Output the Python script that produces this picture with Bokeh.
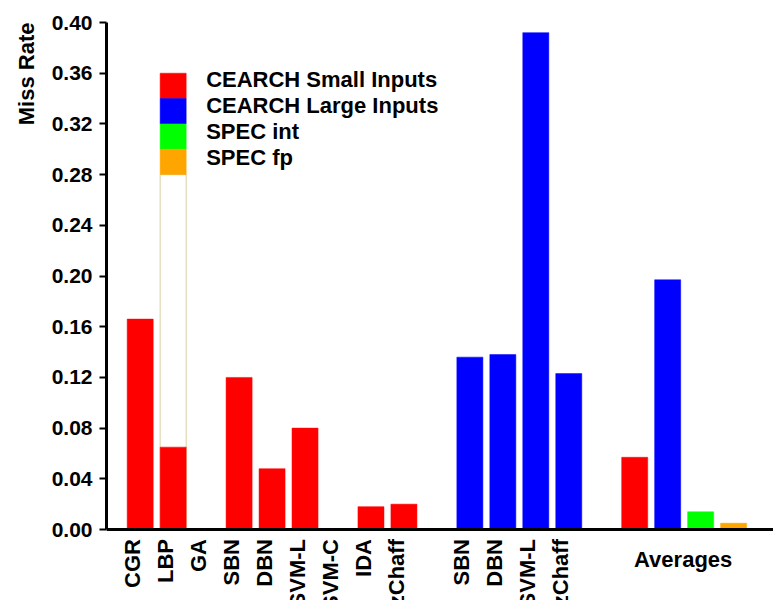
from math import pi
from bokeh.plotting import figure
from bokeh.models import Range1d, FixedTicker, PrintfTickFormatter, Span
from bokeh.core.properties import value
from bokeh.embed import file_html
from bokeh.resources import INLINE

# ---- data ----
small_labels = ["CGR", "LBP", "GA", "SBN", "DBN", "SVM-L", "SVM-C", "IDA", "zChaff"]
small_values = [0.166, 0.065, 0.0, 0.120, 0.048, 0.080, 0.0, 0.018, 0.020]
large_labels = ["SBN", "DBN", "SVM-L", "zChaff"]
large_values = [0.136, 0.138, 0.392, 0.123]
avg_series = ["CEARCH Small Inputs", "CEARCH Large Inputs", "SPEC int", "SPEC fp"]
avg_values = [0.057, 0.197, 0.014, 0.005]
series_colors = ["#FF0000", "#0000FF", "#00FF00", "#FFA500"]
y_ticks = [0.00, 0.04, 0.08, 0.12, 0.16, 0.20, 0.24, 0.28, 0.32, 0.36, 0.40]

FONT = "Liberation Sans"

# slot positions
small_x = list(range(len(small_labels)))
large_start = len(small_labels) + 1
large_x = [large_start + i for i in range(len(large_labels))]
avg_start = large_x[-1] + 2
avg_x = [avg_start + i for i in range(len(avg_values))]

p = figure(width=773, height=600, output_backend="svg", toolbar_location=None,
           x_range=Range1d(-1.022, 19.21), y_range=Range1d(-0.056, 0.40),
           min_border_left=106, min_border_right=0, min_border_top=22, min_border_bottom=0,
           title="Miss Rate", title_location="left")
p.outline_line_color = None
p.xgrid.visible = False
p.ygrid.visible = False
p.background_fill_color = "white"
p.border_fill_color = "white"

p.title.align = "right"
p.title.text_font = FONT
p.title.text_font_size = "22px"
p.title.text_font_style = "bold"
p.title.text_color = "black"
p.title.standoff = 19

BW = 0.79

# legend-like stacked patches (white box under LBP bar)
lx = small_x[1]
p.vbar(x=[lx], bottom=[0.0], top=[0.28], width=BW, fill_color="white",
       line_color="#D8D0A0", line_width=1)
for k, c in enumerate(series_colors):
    top = 0.36 - 0.02 * k
    p.vbar(x=[lx], bottom=[top - 0.02], top=[top], width=BW, fill_color=c, line_color=c, line_width=0.5)

p.vbar(x=small_x, top=small_values, width=BW, fill_color=series_colors[0], line_color=series_colors[0], line_width=0.5)
p.vbar(x=large_x, top=large_values, width=BW, fill_color=series_colors[1], line_color=series_colors[1], line_width=0.5)
p.vbar(x=avg_x, top=avg_values, width=BW, fill_color=series_colors, line_color=series_colors, line_width=0.5)

# legend texts
p.text(x=[2.0] * len(avg_series), y=[0.3553 - 0.0205 * k for k in range(len(avg_series))],
       text=avg_series, text_font=value(FONT), text_font_size="22px", text_font_style="bold",
       text_color="black", text_align="left", text_baseline="alphabetic")

# x axis baseline at zero
p.add_layout(Span(location=0, dimension="width", line_color="black", line_width=3))
p.xaxis.visible = False

# y axis
yax = p.yaxis[0]
yax.bounds = (0, 0.40)
yax.ticker = FixedTicker(ticks=y_ticks)
yax.formatter = PrintfTickFormatter(format="%.2f")
yax.axis_line_width = 3
yax.major_tick_line_width = 2
yax.major_tick_out = 7
yax.major_tick_in = 0
yax.minor_tick_line_color = None
yax.major_label_standoff = 7
yax.major_label_text_font = FONT
yax.major_label_text_font_size = "21px"
yax.major_label_text_font_style = "bold"
yax.major_label_text_color = "black"

# category labels below the axis
cat_x = small_x + large_x
cat_text = small_labels + large_labels
p.text(x=[c - 0.24 for c in cat_x], y=[-0.0075] * len(cat_x), text=cat_text, angle=pi / 2,
       text_align="right", text_baseline="alphabetic",
       text_font=value(FONT), text_font_size="22px", text_font_style="bold", text_color="black")

p.text(x=[(avg_x[0] + avg_x[-1]) / 2 - 0.03], y=[-0.0236], text=["Averages"],
       text_font=value(FONT), text_font_size="22px", text_font_style="bold",
       text_align="center", text_baseline="alphabetic", text_color="black")

open("out.html", "w").write(file_html(p, INLINE))
